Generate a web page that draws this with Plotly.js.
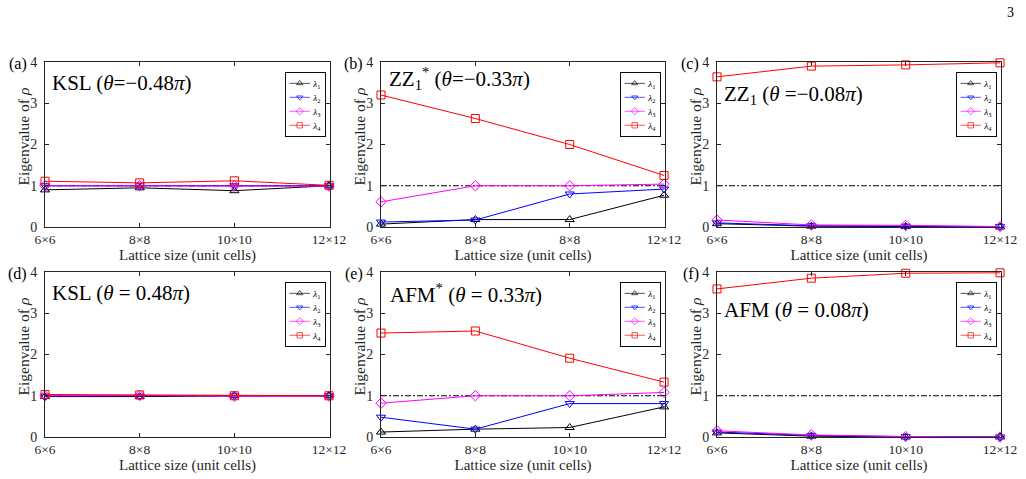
<!DOCTYPE html>
<html>
<head>
<meta charset="utf-8">
<script src="https://cdn.plot.ly/plotly-3.0.1.min.js"></script>
<style>html,body{margin:0;padding:0;background:#fff;}#chart{width:1026px;height:479px;}</style>
</head>
<body>
<div id="chart"></div>
<script>
// ---- data ----
const xIndex = [0, 1, 2, 3];
const sizeLabels = ['6×6', '8×8', '10×10', '12×12'];
const sizeLabelsB = ['6×6', '8×8', '8×8', '12×12'];
const yTicks = [0, 1, 2, 3, 4];
const seriesNames = ['<i>λ</i><sub>1</sub>', '<i>λ</i><sub>2</sub>', '<i>λ</i><sub>3</sub>', '<i>λ</i><sub>4</sub>'];
const panelTitles = [
  'KSL (<i>θ</i>=−0.48<i>π</i>)',
  'ZZ<sub>1</sub><sup>*</sup> (<i>θ</i>=−0.33<i>π</i>)',
  'ZZ<sub>1</sub> (<i>θ</i> =−0.08<i>π</i>)',
  'KSL (<i>θ</i> = 0.48<i>π</i>)',
  'AFM<sup>*</sup> (<i>θ</i> = 0.33<i>π</i>)',
  'AFM (<i>θ</i> = 0.08<i>π</i>)'
];
const panelLetters = ['(a)', '(b)', '(c)', '(d)', '(e)', '(f)'];
const xTitle = 'Lattice size (unit cells)';
const yTitle = 'Eigenvalue of <i>ρ</i>';
const refLevel = 1;

// panel (a) KSL theta=-0.48pi
const a_l1 = [0.90, 0.95, 0.88, 1.00];
const a_l2 = [1.00, 1.00, 1.00, 1.00];
const a_l3 = [1.00, 1.00, 1.00, 0.99];
const a_l4 = [1.11, 1.07, 1.12, 1.01];
// panel (b) ZZ1* theta=-0.33pi
const b_l1 = [0.07, 0.18, 0.18, 0.77];
const b_l2 = [0.12, 0.17, 0.80, 0.92];
const b_l3 = [0.61, 1.00, 1.00, 1.04];
const b_l4 = [3.20, 2.63, 2.00, 1.25];
// panel (c) ZZ1 theta=-0.08pi
const c_l1 = [0.08, 0.02, 0.01, 0.00];
const c_l2 = [0.10, 0.03, 0.02, 0.01];
const c_l3 = [0.17, 0.05, 0.04, 0.01];
const c_l4 = [3.64, 3.90, 3.93, 3.98];
// panel (d) KSL theta=0.48pi
const d_l1 = [0.98, 0.98, 1.00, 1.00];
const d_l2 = [0.99, 0.99, 1.00, 1.00];
const d_l3 = [1.00, 1.01, 0.99, 0.99];
const d_l4 = [1.03, 1.02, 1.00, 1.00];
// panel (e) AFM* theta=0.33pi
const e_l1 = [0.12, 0.19, 0.23, 0.73];
const e_l2 = [0.48, 0.19, 0.81, 0.81];
const e_l3 = [0.82, 1.00, 1.00, 1.08];
const e_l4 = [2.52, 2.57, 1.91, 1.33];
// panel (f) AFM theta=0.08pi
const f_l1 = [0.10, 0.02, 0.00, 0.00];
const f_l2 = [0.12, 0.04, 0.01, 0.00];
const f_l3 = [0.15, 0.05, 0.01, 0.00];
const f_l4 = [3.59, 3.85, 3.97, 3.98];

const panels = [
  [a_l1, a_l2, a_l3, a_l4],
  [b_l1, b_l2, b_l3, b_l4],
  [c_l1, c_l2, c_l3, c_l4],
  [d_l1, d_l2, d_l3, d_l4],
  [e_l1, e_l2, e_l3, e_l4],
  [f_l1, f_l2, f_l3, f_l4]
];
const panelTicks = [sizeLabels, sizeLabelsB, sizeLabels, sizeLabels, sizeLabels, sizeLabels];

// ---- style ----
const colors = ['#000000', '#0000ff', '#ff00ff', '#ff0000'];
const symbols = ['triangle-up-open', 'triangle-down-open', 'diamond-open', 'square-open'];
const W = 1026, H = 479;
const colPx = [[45, 330], [381, 665], [717, 1001]];
const rowPx = [[62, 227], [272, 437]];
const axisColor = '#262626';
const FONT = 'Liberation Serif, Times New Roman, serif';
const LEG_SCALE = 0.68;

const data = [];
const layout = {
  width: W, height: H,
  margin: {l: 0, r: 0, t: 0, b: 0},
  paper_bgcolor: '#ffffff', plot_bgcolor: '#ffffff',
  font: {family: FONT, color: axisColor, size: 13},
  showlegend: true,
  annotations: [], shapes: []
};
const legendTargets = [];

for (let p = 0; p < 6; p++) {
  const col = p % 3, row = Math.floor(p / 3);
  const sfx = p === 0 ? '' : String(p + 1);
  const xa = 'x' + sfx, ya = 'y' + sfx;
  const lg = 'legend' + sfx;
  const x0 = colPx[col][0] / W, x1 = colPx[col][1] / W;
  const y1 = 1 - rowPx[row][0] / H, y0 = 1 - rowPx[row][1] / H;

  panels[p].forEach((vals, i) => {
    data.push({
      type: 'scatter', mode: 'lines+markers',
      x: xIndex, y: vals, xaxis: xa, yaxis: ya,
      name: seriesNames[i], legend: lg, showlegend: true,
      line: {color: colors[i], width: 1},
      marker: {symbol: symbols[i], size: 8, color: colors[i], line: {width: 1, color: colors[i]}},
      cliponaxis: false
    });
  });

  layout['xaxis' + sfx] = {
    domain: [x0, x1], anchor: ya, range: [0, 3.01],
    tickmode: 'array', tickvals: xIndex, ticktext: panelTicks[p],
    ticks: 'inside', ticklen: 4, tickcolor: axisColor,
    showline: true, mirror: 'ticks', linecolor: axisColor, linewidth: 1,
    showgrid: false, zeroline: false,
    tickfont: {size: 13.5, family: FONT, color: axisColor},
    title: {text: xTitle, font: {size: 15, family: FONT, color: axisColor}, standoff: 0}
  };
  layout['yaxis' + sfx] = {
    domain: [y0, y1], anchor: xa, range: [0, 4],
    tickmode: 'array', tickvals: yTicks,
    ticks: 'inside', ticklen: 4, tickcolor: axisColor,
    showline: true, mirror: 'ticks', linecolor: axisColor, linewidth: 1,
    showgrid: false, zeroline: false,
    tickfont: {size: 14, family: FONT, color: axisColor},
    ticklabelstandoff: 4
  };
  layout[lg] = {
    x: x1 - 5 / W, y: y1 - 10 / H, xanchor: 'right', yanchor: 'top',
    xref: 'paper', yref: 'paper',
    bgcolor: '#ffffff', bordercolor: '#000000', borderwidth: 1.4,
    font: {size: 13.5, family: FONT, color: '#000000'},
    tracegroupgap: 0, itemwidth: 30
  };
  legendTargets.push({cls: lg, right: colPx[col][1] - 5, top: rowPx[row][0] + 10});
  layout.shapes.push({
    type: 'line', xref: xa + ' domain', yref: ya, x0: 0, x1: 1, y0: refLevel, y1: refLevel,
    line: {color: '#000000', width: 1, dash: '6px,2px,2px,2px'}, layer: 'below'
  });
  // panel letter
  layout.annotations.push({
    xref: 'paper', yref: 'paper', x: (colPx[col][0] - 16) / W, y: 1 - (rowPx[row][0] + 2) / H,
    xanchor: 'right', yanchor: 'middle',
    text: panelLetters[p], showarrow: false, font: {size: 16, family: FONT, color: '#000000'}
  });
  // y-axis title
  layout.annotations.push({
    xref: 'paper', yref: 'paper', x: (colPx[col][0] - 22) / W, y: (y0 + y1) / 2 + 8 / H,
    xanchor: 'center', yanchor: 'middle', textangle: -90,
    text: yTitle, showarrow: false, font: {size: 15.5, family: FONT, color: axisColor}
  });
}

// panel titles (inside the plot area)
const titlePos = [[50, 83], [387, 78], [722, 95], [50, 293], [388, 293], [722, 310]];
panelTitles.forEach((t, p) => {
  layout.annotations.push({
    xref: 'paper', yref: 'paper', x: titlePos[p][0] / W, y: 1 - titlePos[p][1] / H,
    xanchor: 'left', yanchor: 'middle', text: t, showarrow: false,
    font: {size: 21, family: FONT, color: '#000000'}
  });
});
// page number
layout.annotations.push({
  xref: 'paper', yref: 'paper', x: 1016 / W, y: 1 - 12 / H, xanchor: 'right', yanchor: 'middle',
  text: '3', showarrow: false, font: {size: 14, family: FONT, color: '#000000'}
});

Plotly.newPlot('chart', data, layout, {displayModeBar: false, staticPlot: true}).then(gd => {
  // compact the library-drawn legends to the size used in the figure
  legendTargets.forEach(t => {
    const g = gd.querySelector('g.' + t.cls);
    if (!g) return;
    const bg = g.querySelector('rect.bg');
    const w = bg ? parseFloat(bg.getAttribute('width')) : g.getBBox().width;
    const tx = t.right - w * LEG_SCALE;
    g.setAttribute('transform', 'translate(' + tx + ',' + t.top + ') scale(' + LEG_SCALE + ')');
  });
});
</script>
</body>
</html>
